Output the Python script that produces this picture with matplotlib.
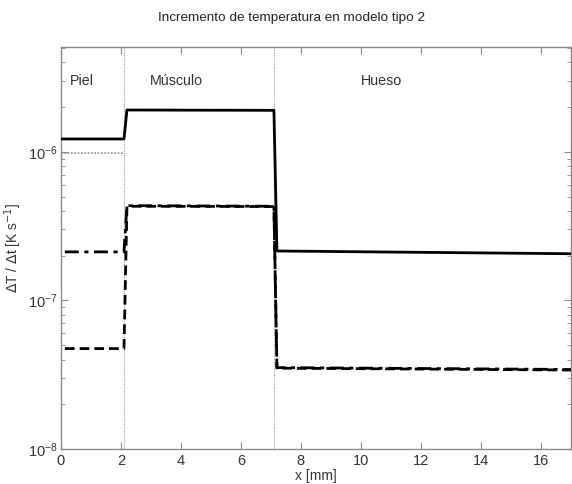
import matplotlib
matplotlib.use("Agg")
import matplotlib.pyplot as plt
import numpy as np

plt.rcParams['font.family'] = ['Liberation Sans', 'DejaVu Sans']

# x breakpoints (mm): start, end of skin, start of muscle, end of muscle, start of bone, end
x_pts = [0.0, 2.1, 2.2, 7.1, 7.2, 17.0]
x_dash_pts = [0.13, 2.1, 2.2, 7.1, 7.2, 17.0]

solid_vals = [1.22e-6, 1.22e-6, 1.91e-6, 1.90e-6, 2.15e-7, 2.06e-7]
dotted_vals = [9.8e-7, 9.8e-7, 1.93e-6, 1.92e-6, 2.17e-7, 2.08e-7]
dashdot_vals = [2.12e-7, 2.12e-7, 4.34e-7, 4.30e-7, 3.53e-8, 3.43e-8]
dashed_vals = [4.74e-8, 4.74e-8, 4.30e-7, 4.28e-7, 3.50e-8, 3.40e-8]

boundaries = [2.1, 7.1]
region_names = ["Piel", "Músculo", "Hueso"]
region_x = [0.3, 2.97, 10.0]

fig = plt.figure(figsize=(5.72, 4.84), dpi=100)
ax = fig.add_axes([0.1066, 0.0723, 0.8914, 0.8306])

for b in boundaries:
    ax.axvline(b, color='#a0a0a0', lw=0.8, ls=(0, (1, 1)), zorder=1)

ax.plot(x_pts[:2], dotted_vals[:2], color='#909090', lw=1.2, ls=(0, (1, 1)), zorder=2)
ax.plot(x_pts, solid_vals, color='black', lw=2.0, ls='-', zorder=3)
ax.plot(x_dash_pts, dashdot_vals, color='black', lw=2.0, ls=(0, (5, 2, 1.5, 2)), zorder=3)
ax.plot(x_dash_pts, dashed_vals, color='black', lw=2.0, ls=(0, (3.5, 1.8)), zorder=3)

ax.set_yscale('log')
ax.set_xlim(0, 17)
ax.set_ylim(1e-8, 5.07e-6)
ax.set_xticks([0, 2, 4, 6, 8, 10, 12, 14, 16])

for name, xr in zip(region_names, region_x):
    ax.text(xr, 3.0e-6, name, fontsize=10.3, color='#333333', va='center', ha='left')

ax.set_xlabel('x [mm]', fontsize=10, color='#333333', labelpad=1)
ax.set_ylabel(r'$\Delta$T / $\Delta$t [K s$^{-1}$]', fontsize=10, color='#333333')
ax.yaxis.set_label_coords(-0.072, 0.5)
fig.text(0.509, 0.962, 'Incremento de temperatura en modelo tipo 2', fontsize=9.7,
         ha='center', va='center', color='#222222')

for s in ax.spines.values():
    s.set_color('#8a8a8a')
    s.set_linewidth(1.0)
ax.tick_params(which='both', direction='in', top=True, right=True, colors='#8a8a8a',
               labelcolor='#333333', labelsize=10.5)
ax.tick_params(which='major', length=5)
ax.tick_params(which='minor', length=3)
ax.tick_params(axis='y', pad=2.5)

fig.savefig('out.png', dpi=100)
